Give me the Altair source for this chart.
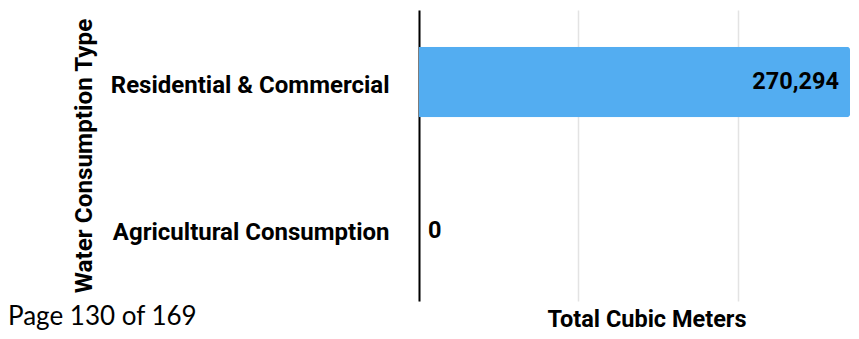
import altair as alt
import pandas as pd

categories = ["Residential & Commercial", "Agricultural Consumption"]
values = [270294, 0]
value_labels = ["270,294", "0"]
page_text = ["Page 130 of 169"]
grid_values = [0, 100000, 200000]

df = pd.DataFrame({"type": categories, "total": values, "label": value_labels})

FONT = "Roboto"
BAR = "#53ADF1"
FS = 23.5
LFS = 24

y = alt.Y(
    "type:N", sort=categories, title="Water Consumption Type",
    scale=alt.Scale(paddingInner=0.52, paddingOuter=0.25),
    axis=alt.Axis(
        labelFont=FONT, labelFontSize=LFS, labelFontWeight="bold", labelColor="#000",
        labelPadding=30, labelOffset=4, ticks=False, tickSize=0, domain=True,
        domainColor="#000", domainWidth=2, grid=False, labelLimit=400,
        titleFont=FONT, titleFontSize=24.3, titleFontWeight="bold", titleColor="#000",
        titleX=-328, titleY=145.5, titleBaseline="alphabetic", titleAngle=270,
        titleAlign="center",
    ),
)
x = alt.X(
    "total:Q", title="Total Cubic Meters",
    scale=alt.Scale(domain=[0, 270294], nice=False, zero=True),
    axis=alt.Axis(
        values=grid_values, labels=False, ticks=False, domain=False, grid=True,
        gridColor="#E3E3E3", gridWidth=1.5,
        titleFont=FONT, titleFontSize=FS, titleFontWeight="bold", titleColor="#000",
        titleX=227.5, titleY=25, titleBaseline="alphabetic", titleAlign="center",
    ),
)

base = alt.Chart(df)
bars = base.mark_bar(color=BAR, cornerRadiusEnd=3).encode(x=x, y=y)
t_in = base.transform_filter(alt.datum.total > 0).mark_text(
    align="right", baseline="middle", dx=-11, font=FONT, fontSize=FS,
    fontWeight="bold", color="#000"
).encode(x=x, y=y, text="label:N")
t_zero = base.transform_filter(alt.datum.total <= 0).mark_text(
    align="left", baseline="middle", dx=9, dy=2, font=FONT, fontSize=FS,
    fontWeight="bold", color="#000"
).encode(x=x, y=y, text="label:N")

page = alt.Chart(pd.DataFrame({"t": page_text})).mark_text(
    align="left", baseline="alphabetic", font="Lato", fontSize=26, color="#000"
).encode(x=alt.value(-411), y=alt.value(315), text="t:N")

chart = alt.layer(bars, t_in, t_zero, page).properties(
    width=431, height=291,
    padding={"left": 411, "top": 2, "right": 0, "bottom": 31},
    autosize=alt.AutoSizeParams(type="none"),
).configure_view(stroke=None)

chart.save("out.html", embed_options={"renderer": "svg", "actions": False})
